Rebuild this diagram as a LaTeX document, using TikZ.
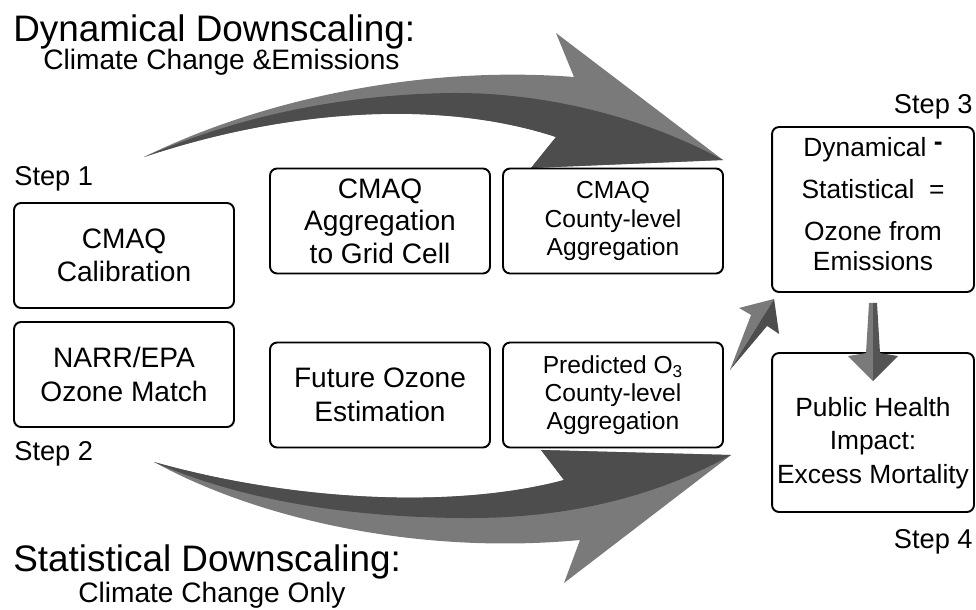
\documentclass[tikz,border=0pt]{standalone}
\usepackage{fontspec}
\setmainfont{Liberation Sans}
\usetikzlibrary{calc}
\definecolor{arrowlight}{HTML}{7A7A7A}
\definecolor{arrowdark}{HTML}{4D4D4D}
\tikzset{
	box/.style = {draw, line width = 1.1pt, rounded corners = 4pt, fill = white, align = center, minimum width = 4.4cm, minimum height = 2.1cm},
	bigtext/.style = {font = \fontsize{16}{19}\selectfont},
	smalltext/.style = {font = \fontsize{14}{16}\selectfont},
	steptext/.style = {inner sep = 0pt, font = \fontsize{15.5}{18}\selectfont},
	titletext/.style = {inner sep = 0pt, font = \fontsize{21}{24}\selectfont},
	subtext/.style = {inner sep = 0pt, font = \fontsize{16}{19}\selectfont},
}

\begin{document}
\begin{tikzpicture}[x = 0.02cm, y = -0.02cm]
	\useasboundingbox (0, 0) rectangle (976, 609);

	% big curved arrows
	\fill [arrowlight] (144, 157) .. controls (260, 100) and (420, 65) .. (574, 77)
		-- (556, 33) -- (723, 160) -- (531, 168) -- (556, 137)
		.. controls (450, 102) and (300, 105) .. (144, 157) -- cycle;
	\fill [arrowdark] (144, 157) .. controls (300, 105) and (450, 102) .. (556, 137)
		-- (531, 168) -- (723, 160)
		.. controls (640, 115) and (540, 92) .. (450, 93)
		.. controls (330, 95) and (230, 120) .. (144, 157) -- cycle;
	\fill [arrowlight] (154, 462) .. controls (260, 520) and (420, 555) .. (580, 540)
		-- (564, 583) -- (731, 455) -- (541, 450) -- (564, 480)
		.. controls (460, 508) and (300, 503) .. (154, 462) -- cycle;
	\fill [arrowdark] (154, 462) .. controls (300, 503) and (460, 508) .. (564, 480)
		-- (541, 450) -- (731, 455)
		.. controls (650, 500) and (560, 518) .. (470, 518)
		.. controls (350, 518) and (240, 500) .. (154, 462) -- cycle;

	% titles and steps
	\node [titletext, anchor = base west] (dyntitle) at (13, 41) {Dynamical Downscaling:};
	\node [subtext, anchor = base west] (dynsub) at (43, 69) {Climate Change \&Emissions};
	\node [titletext, anchor = base west] (stattitle) at (13, 571) {Statistical Downscaling:};
	\node [subtext, anchor = base west] (statsub) at (78, 602) {Climate Change Only};
	\node [steptext, anchor = base west] (step1) at (14, 185) {Step 1};
	\node [steptext, anchor = base west] (step2) at (14, 460) {Step 2};
	\node [steptext, anchor = base east] (step3) at (973, 113) {Step 3};
	\node [steptext, anchor = base east] (step4) at (973, 548) {Step 4};

	% boxes
	\node [box, bigtext] (calib) at (124, 255.5) {CMAQ\\Calibration};
	\node [box, bigtext] (narr) at (124, 374.5) {NARR/EPA\\Ozone Match};
	\node [box, font = \fontsize{16}{18.5}\selectfont] (aggr) at (380, 221) {CMAQ\\Aggregation\\to Grid Cell};
	\node [box, smalltext] (county) at (613, 221) {CMAQ\\County-level\\Aggregation};
	\node [box, bigtext] (future) at (380, 395) {Future Ozone\\Estimation};
	\node [box, smalltext] (pred) at (613, 395) {Predicted O\textsubscript{3}\\County-level\\Aggregation};
	\node [box, minimum width = 4.04cm, minimum height = 3.3cm] (diff) at (873, 209.5) {};
	\node [align = center, font = \fontsize{15}{17}\selectfont] (difftext) at (873, 204)
		{Dynamical \raisebox{0.4ex}{\textbf{-}}\\[7pt] Statistical\ \ =\\[7pt] Ozone from\\Emissions};
	\node [box, minimum width = 4.04cm, minimum height = 3.18cm] (health) at (873, 432.5) {};
	\node [align = center, font = \fontsize{15}{19}\selectfont] (healthtext) at (873, 443) {Public Health\\Impact:\\Excess Mortality};

	% small arrows
	\coordinate (dtail) at ([shift = {(6, -25)}]pred.east);
	\coordinate (dtip) at ([shift = {(3, 6)}]diff.south west);
	\fill [arrowlight] (dtail) -- ($(dtip) + (-23, 16)$) -- ($(dtip) + (-35, 9)$) -- (dtip) -- cycle;
	\fill [arrowdark] (dtail) -- ($(dtip) + (-7, 27)$) -- ($(dtip) + (5, 35)$) -- (dtip) -- cycle;

	\coordinate (vtop) at ([yshift = -0.2cm]diff.south);
	\coordinate (vtip) at ([yshift = -0.58cm]health.north);
	\fill [arrowlight] (vtop) -- ++(-4, 0) -- ($(vtip) + (-7, -28)$) -- ($(vtip) + (-25, -25)$) -- (vtip) -- cycle;
	\fill [arrowdark!85!arrowlight] (vtop) -- ++(4, 0) -- ($(vtip) + (7, -28)$) -- ($(vtip) + (25, -25)$) -- (vtip) -- cycle;
\end{tikzpicture}
\end{document}
